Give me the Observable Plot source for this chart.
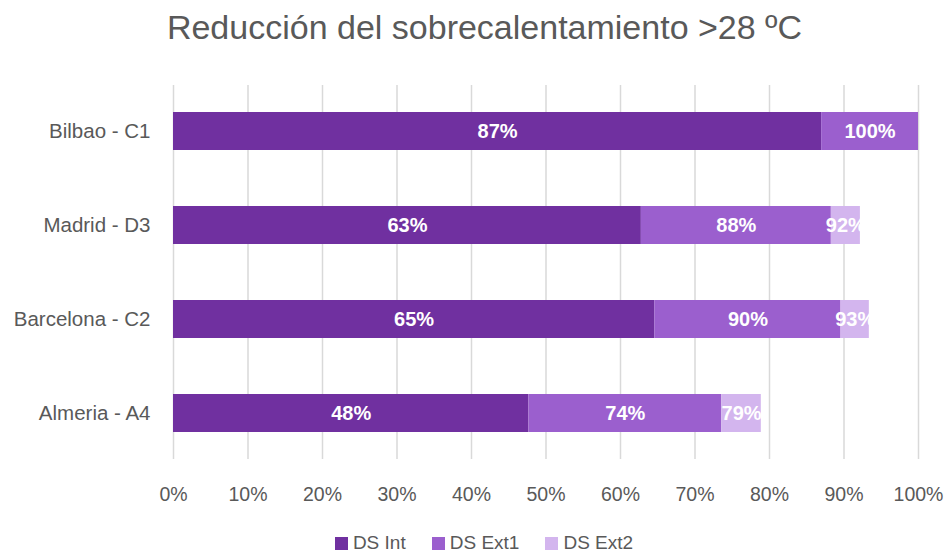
<!DOCTYPE html>
<html>
<head>
<meta charset="utf-8">
<script src="https://cdn.jsdelivr.net/npm/d3@7"></script>
<script src="https://cdn.jsdelivr.net/npm/@observablehq/plot@0.6"></script>
<style>
  html, body { margin: 0; padding: 0; background: #fff; }
  body { width: 949px; height: 553px; position: relative; font-family: "Liberation Sans", "DejaVu Sans", sans-serif; overflow: hidden; }
  #title { position: absolute; top: 8px; left: 0; width: 969px; text-align: center; font-size: 34px; color: #595959; }
  #chart { position: absolute; top: 58px; left: 0; }
  #legend { position: absolute; top: 533px; left: 0; width: 968px; height: 20px; line-height: 20px; display: flex; justify-content: center; gap: 26px; font-size: 19px; color: #595959; }
  #legend span.item { display: flex; align-items: center; gap: 5px; line-height: 20px; }
  #legend span.sw { width: 13px; height: 13px; display: inline-block; }
</style>
</head>
<body>
<div id="title">Reducción del sobrecalentamiento &gt;28 ºC</div>
<div id="chart"></div>
<div id="legend"></div>
<script>
const cities = ["Bilbao - C1", "Madrid - D3", "Barcelona - C2", "Almeria - A4"];
const series = ["DS Int", "DS Ext1", "DS Ext2"];
const colors = ["#7030A0", "#9B5FCE", "#D3B5EE"];
// cumulative values (fraction of 1)
const dsInt  = [0.870, 0.628, 0.646, 0.477];
const dsExt1 = [1.000, 0.883, 0.896, 0.736];
const dsExt2 = [1.000, 0.922, 0.934, 0.789];
const xTicks = [0, 0.1, 0.2, 0.3, 0.4, 0.5, 0.6, 0.7, 0.8, 0.9, 1.0];

const cum = [dsInt, dsExt1, dsExt2];
const rows = [];
cities.forEach((c, i) => {
  let prev = 0;
  series.forEach((s, j) => {
    const v = cum[j][i];
    rows.push({city: c, series: s, x1: prev, x2: v, label: Math.round(v * 100) + "%"});
    prev = v;
  });
});
const labelRows = rows.filter(d => d.x2 - d.x1 > 0.001);

const plot = Plot.plot({
  width: 949,
  height: 457,
  marginLeft: 173,
  marginRight: 31,
  marginTop: 27,
  marginBottom: 56,
  style: { fontFamily: "Liberation Sans, DejaVu Sans, sans-serif", fontSize: "19.5px", color: "#595959" },
  x: { domain: [0, 1], ticks: xTicks, tickFormat: d => Math.round(d * 100) + "%", label: null },
  y: { domain: cities, paddingInner: 0.6, paddingOuter: 0.28, label: null },
  color: { domain: series, range: colors },
  marks: [
    Plot.gridX(xTicks, { stroke: "#d9d9d9", strokeOpacity: 1, strokeWidth: 1.5 }),
    Plot.axisX({ ticks: xTicks, tickSize: 0, tickPadding: 28, tickFormat: d => Math.round(d * 100) + "%", fill: "#595959", fontSize: 19.5, label: null }),
    Plot.axisY({ tickSize: 0, tickPadding: 23, fill: "#595959", fontSize: 20.5, label: null }),
    Plot.barX(rows, { y: "city", x1: "x1", x2: "x2", fill: "series" }),
    Plot.text(labelRows, { y: "city", x: d => (d.x1 + d.x2) / 2, text: "label", fill: "white", fontWeight: "bold", fontSize: 20 })
  ]
});
document.getElementById("chart").appendChild(plot);

const legend = document.getElementById("legend");
series.forEach((s, j) => {
  const it = document.createElement("span");
  it.className = "item";
  const sw = document.createElement("span");
  sw.className = "sw";
  sw.style.background = colors[j];
  it.appendChild(sw);
  it.appendChild(document.createTextNode(s));
  legend.appendChild(it);
});
</script>
</body>
</html>
